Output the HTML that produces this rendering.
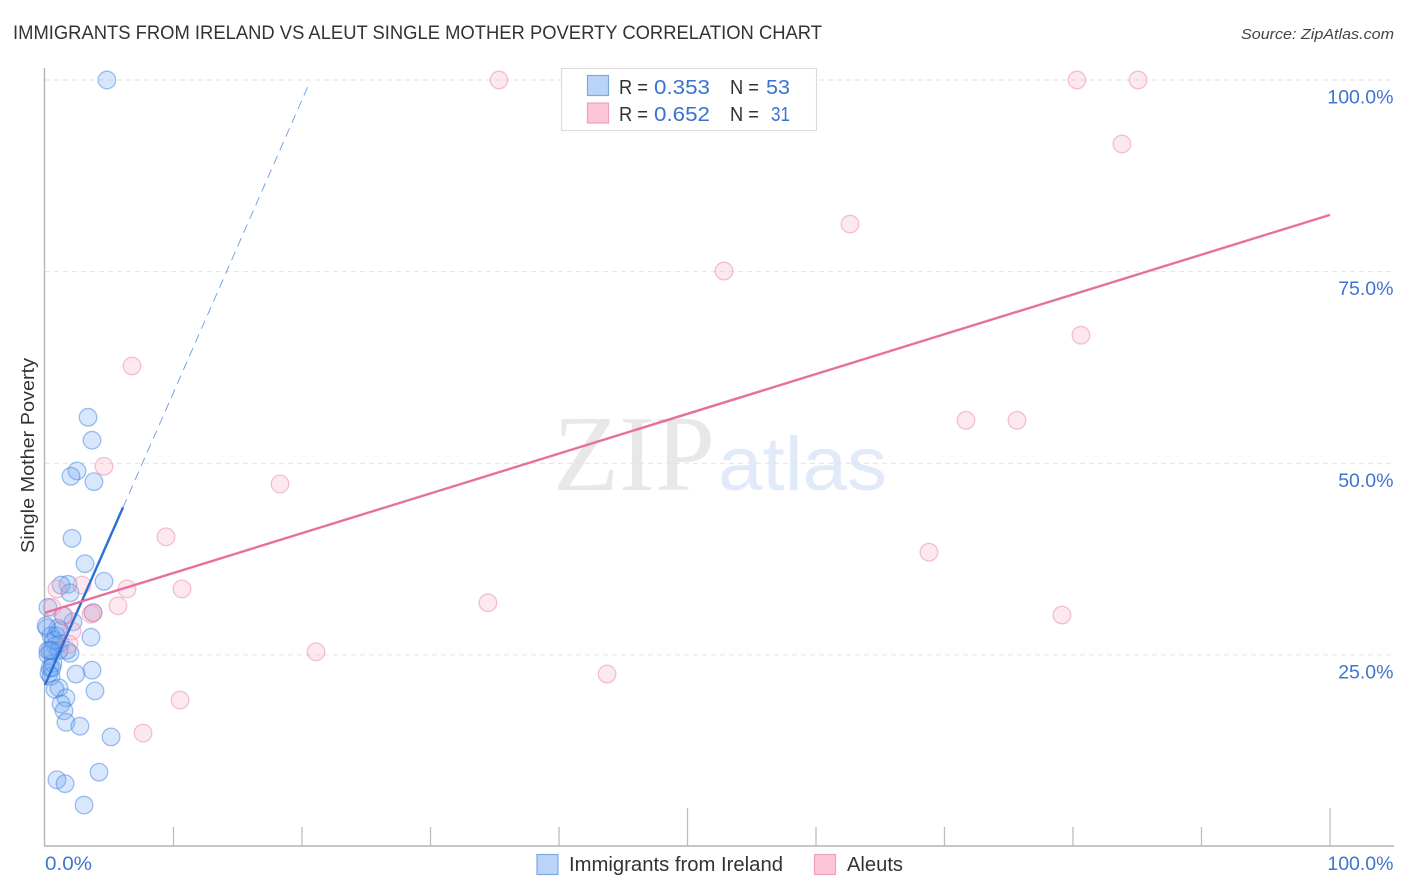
<!DOCTYPE html>
<html lang="en">
<head>
<meta charset="utf-8">
<title>Immigrants from Ireland vs Aleut Single Mother Poverty Correlation Chart</title>
<style>
html,body{margin:0;padding:0;background:#fff;}
svg{display:block;}
text{font-family:"Liberation Sans",sans-serif;}
</style>
</head>
<body>
<svg id="chart" xmlns="http://www.w3.org/2000/svg" width="1406" height="892" viewBox="0 0 1406 892">
  <text x="13" y="39" font-size="19" fill="#333" textLength="809" lengthAdjust="spacingAndGlyphs">IMMIGRANTS FROM IRELAND VS ALEUT SINGLE MOTHER POVERTY CORRELATION CHART</text>
  <text x="1241" y="39" font-size="15" font-style="italic" fill="#444" textLength="153" lengthAdjust="spacingAndGlyphs">Source: ZipAtlas.com</text>
  <text x="553" y="490" font-size="108" fill="#e8e8e8" style="font-family:'Liberation Serif',serif" textLength="162" lengthAdjust="spacingAndGlyphs">ZIP</text>
  <text x="718" y="490" font-size="76" fill="#e1eaf9" textLength="169" lengthAdjust="spacingAndGlyphs">atlas</text>
  <g id="grid"></g>
  <g id="axes"></g>
  <g id="blue-points"></g>
  <g id="pink-points"></g>
  <g id="trends"></g>
  <text transform="translate(34,553) rotate(-90)" font-size="18.5" fill="#333" textLength="195" lengthAdjust="spacingAndGlyphs">Single Mother Poverty</text>
  <g id="tick-labels"></g>

  <g>
    <rect x="561.5" y="68.5" width="255" height="62" fill="#fff" stroke="#dcdcdc" stroke-width="1.2"/>
    <rect x="587.5" y="75.5" width="21" height="20" fill="#b9d4f8" stroke="#7fa8e2" stroke-width="1.2"/>
    <rect x="587.5" y="103" width="21" height="20" fill="#fcc6d8" stroke="#eda0ba" stroke-width="1.2"/>
    <text x="619" y="94" font-size="20" fill="#333" textLength="29" lengthAdjust="spacingAndGlyphs">R =</text>
    <text x="654" y="94" font-size="20.5" fill="#3b72cf" textLength="56" lengthAdjust="spacingAndGlyphs">0.353</text>
    <text x="730" y="94" font-size="20" fill="#333" textLength="29" lengthAdjust="spacingAndGlyphs">N =</text>
    <text x="766" y="94" font-size="20.5" fill="#3b72cf" textLength="24" lengthAdjust="spacingAndGlyphs">53</text>
    <text x="619" y="121" font-size="20" fill="#333" textLength="29" lengthAdjust="spacingAndGlyphs">R =</text>
    <text x="654" y="121" font-size="20.5" fill="#3b72cf" textLength="56" lengthAdjust="spacingAndGlyphs">0.652</text>
    <text x="730" y="121" font-size="20" fill="#333" textLength="29" lengthAdjust="spacingAndGlyphs">N =</text>
    <text x="771" y="121" font-size="20.5" fill="#3b72cf" textLength="19" lengthAdjust="spacingAndGlyphs">31</text>
  </g>

  <g>
    <rect x="537" y="854.5" width="21" height="20" fill="#b9d4f8" stroke="#7fa8e2" stroke-width="1.2"/>
    <text x="569" y="871" font-size="20" fill="#333" textLength="214" lengthAdjust="spacingAndGlyphs">Immigrants from Ireland</text>
    <rect x="814.5" y="854.5" width="21" height="20" fill="#fcc6d8" stroke="#eda0ba" stroke-width="1.2"/>
    <text x="847" y="871" font-size="20" fill="#333" textLength="56" lengthAdjust="spacingAndGlyphs">Aleuts</text>
  </g>
</svg>
<script>
const irelandX = [4.82,3.35,3.66,2.49,2.02,3.81,2.10,3.11,4.59,1.79,1.25,1.95,3.74,1.40,2.18,1.17,3.58,0.23,0.16,0.47,0.86,1.17,0.78,1.71,1.95,1.09,0.54,0.23,0.62,0.39,0.31,0.47,3.66,2.41,3.89,1.09,0.78,1.63,1.25,1.48,1.63,2.72,5.14,4.20,0.93,1.56,3.04,0.23,0.70,1.01,0.54,0.08,0.39];
const irelandY = [100,56.0,53.0,49.0,48.3,47.6,40.2,36.9,34.6,34.2,34.1,33.1,30.5,30.1,29.3,28.2,27.3,31.2,28.5,27.5,27.5,26.5,26.2,25.6,25.2,25.6,25.6,25.0,23.9,23.3,22.6,22.2,23.0,22.5,20.3,20.7,20.5,19.4,18.6,17.7,16.2,15.7,14.3,9.7,8.7,8.2,5.4,25.6,26.9,28.5,23.3,28.8,25.6];
const aleutsX = [35.33,80.31,85.06,83.81,62.65,52.84,80.62,6.77,71.67,75.64,4.59,18.29,9.42,68.79,0.93,2.88,6.38,10.66,34.47,5.68,0.54,3.58,3.74,79.14,1.48,2.10,1.87,21.09,43.74,10.51,7.63];
const aleutsY = [100,100,100,91.65,81.2,75.08,66.7,62.7,55.6,55.6,49.6,47.3,40.4,38.4,33.6,34.1,33.6,33.6,31.8,31.4,31.2,30.3,30.5,30.2,30.1,28.1,26.4,25.4,22.5,19.1,14.8];
const irelandTrendEnds = [21.07,3.817];
const irelandTrendRange = [0,6.07,20.55];
const aleutsTrendEnds = [30.5,82.4];
const yTickValues = [25,50,75,100];
const yTickLabels = ["25.0%","50.0%","75.0%","100.0%"];
const xTickValues = [10,20,30,40,50,60,70,80,90,100];
const xMajorTicks = [50,100];
const xEndLabels = ["0.0%","100.0%"];

const NS = "http://www.w3.org/2000/svg";
function xScale(v){ return 45 + v * 12.85; }
function yScale(v){ return 846.5 - v * 7.665; }
function make(tag, attrs, parent){
  const el = document.createElementNS(NS, tag);
  for (const k in attrs) el.setAttribute(k, attrs[k]);
  parent.appendChild(el);
  return el;
}

const grid = document.getElementById("grid");
yTickValues.forEach(function(v){
  const el = make("line", {x1:45, x2:1394, y1:yScale(v), y2:yScale(v), stroke:"#e2e2e2", "stroke-width":1, "stroke-dasharray":"5 4"}, grid);
  
  
});

const axes = document.getElementById("axes");
const yAxis = make("line", {x1:44.5, x2:44.5, y1:68, y2:846.5, stroke:"#b4b4b4", "stroke-width":1.4}, axes);


const xAxis = make("line", {x1:44, x2:1394, y1:846, y2:846, stroke:"#b4b4b4", "stroke-width":1.4}, axes);


xTickValues.forEach(function(v){
  const top = xMajorTicks.indexOf(v) >= 0 ? 808 : 827;
  const el = make("line", {x1:xScale(v), x2:xScale(v), y1:top, y2:846, stroke:"#bdbdbd", "stroke-width":1.3}, axes);
  
  
});

const bluePoints = document.getElementById("blue-points");
irelandX.forEach(function(v, i){
  const el = make("circle", {cx:xScale(v), cy:yScale(irelandY[i]), r:8.8, fill:"rgba(110,165,240,0.27)", stroke:"rgba(60,125,225,0.48)", "stroke-width":1.3}, bluePoints);
  
  
});

const pinkPoints = document.getElementById("pink-points");
aleutsX.forEach(function(v, i){
  const el = make("circle", {cx:xScale(v), cy:yScale(aleutsY[i]), r:8.8, fill:"rgba(248,170,195,0.27)", stroke:"rgba(232,130,165,0.48)", "stroke-width":1.3}, pinkPoints);
  
  
});

const trends = document.getElementById("trends");
function irelandTrend(x){ return irelandTrendEnds[0] + irelandTrendEnds[1] * x; }
const blueSolid = make("line", {x1:xScale(irelandTrendRange[0]), y1:yScale(irelandTrend(irelandTrendRange[0])), x2:xScale(irelandTrendRange[1]), y2:yScale(irelandTrend(irelandTrendRange[1])), stroke:"#2a6fd8", "stroke-width":2.4}, trends);


const blueDash = make("line", {x1:xScale(irelandTrendRange[1]), y1:yScale(irelandTrend(irelandTrendRange[1])), x2:xScale(irelandTrendRange[2]), y2:yScale(irelandTrend(irelandTrendRange[2])), stroke:"#6a9ce4", "stroke-width":0.9, "stroke-dasharray":"9 6"}, trends);


const pinkLine = make("line", {x1:xScale(0), y1:yScale(aleutsTrendEnds[0]), x2:xScale(100), y2:yScale(aleutsTrendEnds[1]), stroke:"#e8709c", "stroke-width":2.4}, trends);



const tickLabels = document.getElementById("tick-labels");
yTickLabels.forEach(function(label, i){
  const el = make("text", {x:1393.5, y:yScale(yTickValues[i]) + 23.5, "font-size":19.5, fill:"#3f74d2", "text-anchor":"end"}, tickLabels);
  
  
  el.textContent = label;
});
const xStart = make("text", {x:45, y:870, "font-size":19.5, fill:"#3f74d2", textLength:47, lengthAdjust:"spacingAndGlyphs"}, tickLabels);


xStart.textContent = xEndLabels[0];
const xEnd = make("text", {x:1393.5, y:870, "font-size":19.5, fill:"#3f74d2", "text-anchor":"end"}, tickLabels);


xEnd.textContent = xEndLabels[1];
</script>
</body>
</html>
